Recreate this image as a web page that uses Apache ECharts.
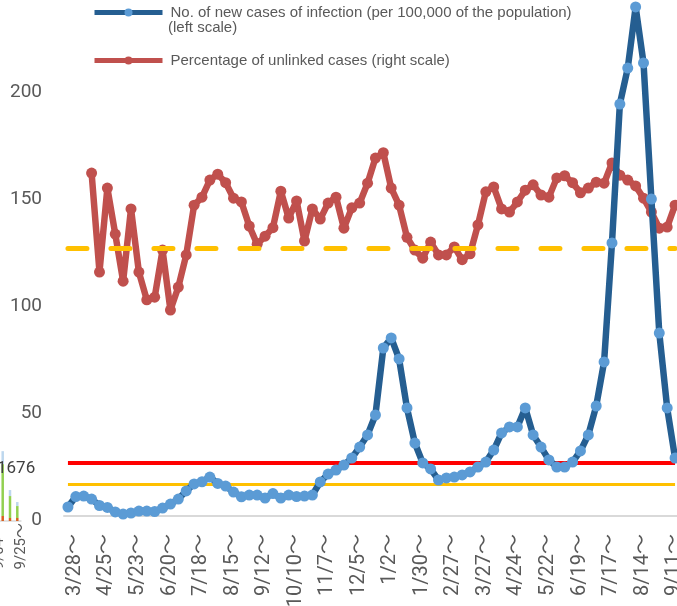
<!DOCTYPE html>
<html>
<head>
<meta charset="utf-8">
<script src="https://cdn.jsdelivr.net/npm/echarts@6/dist/echarts.min.js"></script>
<style>
html, body { margin: 0; padding: 0; background: #fff; }
#chart { width: 677px; height: 606px; }
</style>
</head>
<body>
<div id="chart"></div>
<script>
// weekly categories (week starting)
const weeks = ['3/28','4/4','4/11','4/18','4/25','5/2','5/9','5/16','5/23','5/30',
  '6/6','6/13','6/20','6/27','7/4','7/11','7/18','7/25','8/1','8/8',
  '8/15','8/22','8/29','9/5','9/12','9/19','9/26','10/3','10/10','10/17',
  '10/24','10/31','11/7','11/14','11/21','11/28','12/5','12/12','12/19','12/26',
  '1/2','1/9','1/16','1/23','1/30','2/6','2/13','2/20','2/27','3/6',
  '3/13','3/20','3/27','4/3','4/10','4/17','4/24','5/1','5/8','5/15',
  '5/22','5/29','6/5','6/12','6/19','6/26','7/3','7/10','7/17','7/24',
  '7/31','8/7','8/14','8/21','8/28','9/4','9/11','9/18']

// new cases per 100,000 (left scale)
const newCases = [4.2, 9.1, 9.3, 7.9, 4.9, 4.0, 1.9, 0.9, 1.4, 2.3,
  2.3, 2.1, 3.7, 5.6, 7.9, 11.7, 15.0, 16.0, 18.2, 15.2,
  14.0, 11.2, 9.0, 9.8, 9.8, 8.4, 10.5, 8.4, 9.8, 9.1,
  9.3, 9.8, 15.9, 19.6, 21.5, 23.8, 27.1, 32.2, 37.9, 47.2,
  78.5, 83.2, 73.4, 50.5, 34.1, 24.8, 22.0, 16.8, 17.8, 18.2,
  19.2, 20.6, 22.9, 25.2, 30.8, 38.8, 41.6, 41.6, 50.5, 37.9,
  32.2, 26.2, 22.9, 22.9, 25.2, 30.4, 37.9, 51.4, 72.0, 127.6,
  192.5, 209.3, 237.9, 211.7, 148.1, 85.5, 50.5, 27.1]

// percentage of unlinked cases (right scale, %)
const unlinkedPct = [null, null, null, 64.1, 45.6, 61.3, 52.7, 43.9, 57.4, 45.6,
  40.4, 40.9, 49.7, 38.5, 42.8, 48.8, 58.1, 59.6, 62.8, 63.9,
  62.3, 59.4, 58.7, 54.2, 50.8, 52.3, 53.9, 60.7, 55.7, 58.9,
  51.4, 57.4, 55.5, 58.5, 59.6, 53.8, 57.6, 58.5, 62.2, 66.9,
  67.9, 61.3, 58.1, 52.1, 49.7, 48.2, 51.2, 48.8, 48.8, 50.3,
  47.9, 49.0, 54.4, 60.6, 61.5, 57.4, 56.8, 58.7, 60.9, 61.9,
  60.0, 59.6, 63.2, 63.6, 62.3, 60.4, 61.3, 62.4, 62.2, 66.0,
  63.7, 62.8, 61.7, 59.4, 56.8, 53.8, 54.0, 58.1]

const leftTicks = [0, 50, 100, 150, 200]
const stageLevels = [25, 15]      // red, yellow
const unlinkedTarget = 50         // dashed, right scale

// fragment of the neighbouring chart at the left edge
const insetWeeks = ['9/04', '9/11', '9/18', '9/25']
const insetOrange = [null, 120, 72, 72]
const insetGreen = [null, 1245, 527, 287]
const insetLightBlue = [null, 311, 144, 96]
const insetLabel = '1676'

const blueName = 'No. of new cases of infection (per 100,000 of the population)'
const redName = 'Percentage of unlinked cases (right scale)'
const AXIS_FONT = "Roboto, 'Noto Sans CJK JP', sans-serif"
const LEGEND_FONT = "'Liberation Sans', Arial, sans-serif"

const chart = echarts.init(document.getElementById('chart'))
chart.setOption({
  animation: false,
  legend: {
    orient: 'vertical',
    left: 87,
    top: 0,
    itemWidth: 68,
    itemHeight: 10,
    itemGap: 33,
    data: [blueName, redName],
    lineStyle: { width: 5 },
    textStyle: { fontSize: 15, color: '#595959', fontFamily: LEGEND_FONT, padding: [0, 0, 0, 3] }
  },
  graphic: [
    {
      type: 'text', x: 168, y: 28,
      style: { text: '(left scale)', fontSize: 15, fill: '#595959', fontFamily: LEGEND_FONT, verticalAlign: 'middle' }
    },
    {
      type: 'text', x: -3, y: 469, z: 10,
      style: { text: insetLabel, fontSize: 17, fill: '#404040', fontFamily: AXIS_FONT, verticalAlign: 'middle' }
    }
  ],
  grid: [
    { left: 64, right: -2, top: -19, bottom: 90, outerBoundsMode: 'none', containLabel: false },
    { left: -8.25, width: 29.2, bottom: 85, height: 100, outerBoundsMode: 'none', containLabel: false }
  ],
  xAxis: [
    {
      type: 'category',
      gridIndex: 0,
      data: weeks,
      boundaryGap: true,
      axisLine: { lineStyle: { color: '#D9D9D9', width: 2 } },
      axisTick: { show: false },
      axisLabel: {
        interval: 3,
        rotate: 90,
        margin: 18,
        fontSize: 20,
        lineHeight: 14,
        verticalAlign: 'top',
        color: '#595959',
        fontFamily: AXIS_FONT,
        formatter: (v) => v + '～'
      }
    },
    {
      type: 'category',
      gridIndex: 1,
      data: insetWeeks,
      boundaryGap: true,
      axisLine: { lineStyle: { color: '#D9D9D9', width: 1.5 } },
      axisTick: { show: false },
      axisLabel: {
        interval: 2,
        rotate: 90,
        margin: 2,
        fontSize: 15,
        lineHeight: 8,
        verticalAlign: 'top',
        color: '#595959',
        fontFamily: AXIS_FONT,
        formatter: (v) => v + '～'
      }
    }
  ],
  yAxis: [
    {
      type: 'value',
      gridIndex: 0,
      min: 0,
      max: 250,
      interval: 50,
      splitLine: { show: false },
      axisLine: { show: false },
      axisTick: { show: false },
      axisLabel: {
        margin: 22,
        fontSize: 19,
        lineHeight: 9,
        verticalAlign: 'top',
        color: '#595959',
        fontFamily: AXIS_FONT,
        formatter: (v) => (leftTicks.indexOf(v) >= 0 ? String(v) : '')
      }
    },
    { type: 'value', gridIndex: 0, min: 0, max: 100, show: false },
    { type: 'value', gridIndex: 1, min: 0, max: 2400, show: false }
  ],
  series: [
    {
      name: redName,
      type: 'line',
      xAxisIndex: 0,
      yAxisIndex: 1,
      data: unlinkedPct,
      z: 2,
      symbol: 'circle',
      symbolSize: 11,
      showAllSymbol: true,
      lineStyle: { color: '#C0504D', width: 6.5 },
      itemStyle: { color: '#C0504D' },
      markLine: {
        silent: true,
        z: 3,
        symbol: 'none',
        label: { show: false },
        data: [[
          { xAxis: 0, yAxis: unlinkedTarget },
          { xAxis: weeks.length - 1, yAxis: unlinkedTarget }
        ]],
        lineStyle: { color: '#FFC000', width: 5, type: [19, 24], cap: 'round' }
      }
    },
    {
      name: blueName,
      type: 'line',
      xAxisIndex: 0,
      yAxisIndex: 0,
      data: newCases,
      z: 4,
      symbol: 'circle',
      symbolSize: 11,
      showAllSymbol: true,
      lineStyle: { color: '#255E91', width: 6.5 },
      itemStyle: { color: '#5B9BD5' },
      markLine: {
        silent: true,
        z: 3,
        symbol: 'none',
        label: { show: false },
        data: [
          [
            { xAxis: 0, yAxis: stageLevels[0], lineStyle: { color: '#FF0000', width: 4, type: 'solid' } },
            { xAxis: weeks.length - 1, yAxis: stageLevels[0] }
          ],
          [
            { xAxis: 0, yAxis: stageLevels[1], lineStyle: { color: '#FFC000', width: 3, type: 'solid' } },
            { xAxis: weeks.length - 1, yAxis: stageLevels[1] }
          ]
        ]
      }
    },
    {
      type: 'bar', xAxisIndex: 1, yAxisIndex: 2, stack: 'inset', barWidth: 2.5,
      data: insetOrange, itemStyle: { color: '#D9601F' }
    },
    {
      type: 'bar', xAxisIndex: 1, yAxisIndex: 2, stack: 'inset', barWidth: 2.5,
      data: insetGreen, itemStyle: { color: '#92D050' }
    },
    {
      type: 'bar', xAxisIndex: 1, yAxisIndex: 2, stack: 'inset', barWidth: 2.5,
      data: insetLightBlue, itemStyle: { color: '#BDD7EE' }
    }
  ]
})
</script>
</body>
</html>
